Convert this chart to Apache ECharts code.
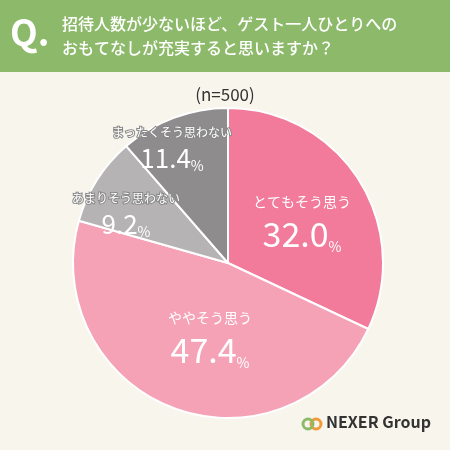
<!DOCTYPE html>
<html><head><meta charset="utf-8">
<script src="https://cdn.jsdelivr.net/npm/echarts@6/dist/echarts.min.js"></script>
<style>html,body{margin:0;padding:0;background:#f7f5ec}#c{width:450px;height:450px}</style>
</head><body><div id="c"></div>
<script>
const categories=['とてもそう思う','ややそう思う','あまりそう思わない','まったくそう思わない'];
const values=[32.0,47.4,9.2,11.4];
const colors=['#f27a9b','#f5a2b7','#b5b3b3','#8e8c8c'];
const titleLines=['招待人数が少ないほど、ゲスト一人ひとりへの','おもてなしが充実すると思いますか？'];
const chart=echarts.init(document.getElementById('c'));
const font='"Noto Sans CJK JP", sans-serif';
const big=i=>i<2;
chart.setOption({
 backgroundColor:'#f7f5ec',
 graphic:[
  {type:'rect',shape:{x:0,y:0,width:450,height:72},style:{fill:'#8dba6a'}},
  {type:'text',left:10,top:14,style:{text:'Q.',fill:'#fff',font:'bold 36px '+font}},
  {type:'text',left:62,top:12,style:{text:titleLines.join('\n'),fill:'#fff',font:'500 16px '+font,lineHeight:24}},
  {type:'text',left:'center',top:86,style:{text:'(n=500)',fill:'#333',font:'17px '+font}},
  {type:'circle',shape:{cx:316,cy:424,r:5},style:{fill:'none',stroke:'#f29a3a',lineWidth:3}},
  {type:'circle',shape:{cx:308,cy:424,r:5},style:{fill:'none',stroke:'#8dba6a',lineWidth:3}},
  {type:'text',left:326,top:414,style:{text:'NEXER Group',fill:'#333',font:'bold 16px '+font}}
 ],
 series:[{type:'pie',center:[228,263],radius:[0,155],startAngle:90,clockwise:true,
  itemStyle:{borderColor:'#fff',borderWidth:2},
  labelLine:{show:false},
  data:categories.map((n,i)=>({name:n,value:values[i],itemStyle:{color:colors[i]}})),
  label:{position:'inner',color:'#fff',fontFamily:font,align:'center',
   formatter:p=>big(p.dataIndex)?'{a|'+p.name+'}\n{b|'+p.value.toFixed(1)+'}{c|%}':'{s|'+p.name+'}\n{t|'+p.value.toFixed(1)+'}{c|%}',
   rich:{a:{fontSize:14,color:'#fff',lineHeight:24,fontFamily:font,align:'center'},b:{fontSize:34,color:'#fff',fontFamily:font,lineHeight:40},
    s:{fontSize:12,color:'#fff',lineHeight:22,fontFamily:font,align:'center',textBorderColor:'#888',textBorderWidth:2},t:{fontSize:26,color:'#fff',fontFamily:font,lineHeight:30},
    c:{fontSize:14,color:'#fff',fontFamily:font,verticalAlign:'bottom',padding:[12,0,0,0]}}},
  labelLayout:p=>{
   const pos=[[302,222],[210,338],[126,213],[172,147]][p.dataIndex];
   return {x:pos[0],y:pos[1],align:'center',verticalAlign:'middle'};
  }
 }]
});
</script></body></html>
